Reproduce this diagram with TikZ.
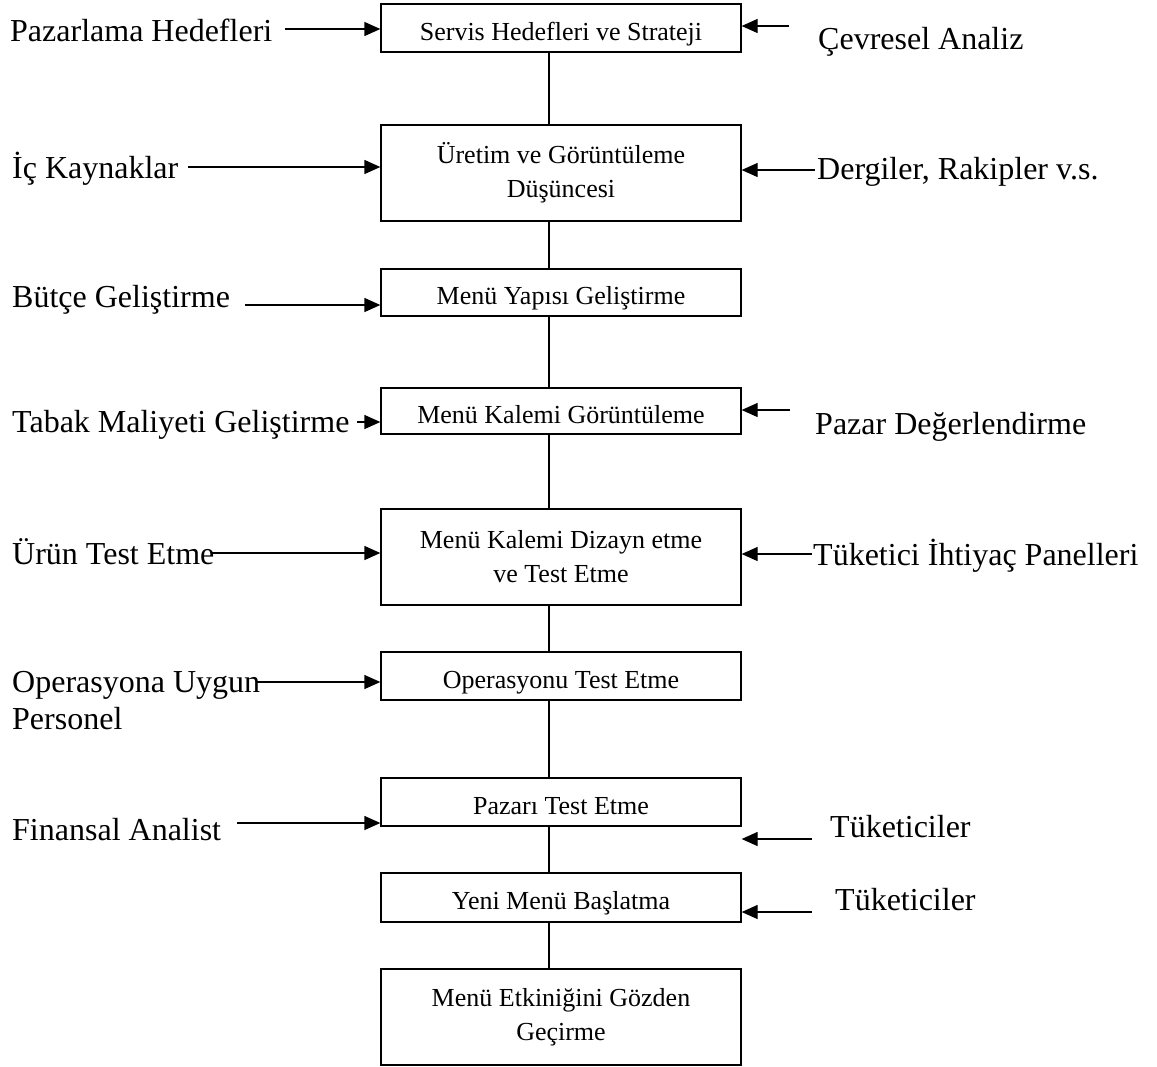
\documentclass[tikz,border=0pt]{standalone}
\usepackage{fontspec}
\setmainfont{Liberation Serif}
\usepackage{tikz}
\usetikzlibrary{arrows.meta}

\tikzset{
  adim/.style={draw,rectangle,line width=1.3pt,minimum width=360pt,inner sep=0pt,
               align=center,font=\fontsize{26}{34}\selectfont},
  tek/.style={text height=24pt,text depth=0pt},
  cift/.style={},
  etiket/.style={inner sep=0pt,font=\fontsize{32}{37}\selectfont},
  ok/.style={line width=1.3pt,-{Triangle[length=16pt,width=14pt]}},
  hat/.style={line width=1.3pt}
}

\begin{document}
\begin{tikzpicture}[x=1pt,y=-1pt]
\useasboundingbox (0,0) rectangle (1157,1066);

% ana adimlar
\foreach \n/\y/\h/\s/\t in {b1/28/48/tek/{Servis Hedefleri ve Strateji},
                            b2/173/96/cift/{Üretim ve Görüntüleme\\Düşüncesi},
                            b3/292.5/47/tek/{Menü Yapısı Geliştirme},
                            b4/411/46/tek/{Menü Kalemi Görüntüleme},
                            b5/557/96/cift/{Menü Kalemi Dizayn etme\\ve Test Etme},
                            b6/676/48/tek/{Operasyonu Test Etme},
                            b7/802/48/tek/{Pazarı Test Etme},
                            b8/897.5/49/tek/{Yeni Menü Başlatma},
                            b9/1017/96/cift/{Menü Etkiniğini Gözden\\Geçirme}}
  \node[adim,\s,minimum height=\h pt] (\n) at (561,\y) {\t};

\foreach \s/\t in {b1/b2, b2/b3, b3/b4, b4/b5, b5/b6, b6/b7, b7/b8, b8/b9}
  \draw[hat] ([xshift=-12pt]\s.south) -- ([xshift=-12pt]\t.north);

% sol etiketler
\foreach \n/\x/\y/\t in {pazarlama/10/41/{Pazarlama Hedefleri},
                         kaynak/12/178/{İç Kaynaklar},
                         butce/12/307/{Bütçe Geliştirme},
                         tabak/12/432/{Tabak Maliyeti Geliştirme},
                         urun/12/564/{Ürün Test Etme},
                         finans/12/840/{Finansal Analist}}
  \node[etiket,anchor=base west] (\n) at (\x,\y) {\t};
\node[etiket,anchor=north west,align=left] (personel) at (12,671) {Operasyona Uygun\\Personel};

% sag etiketler
\foreach \n/\x/\y/\t in {cevre/818/49/{Çevresel Analiz},
                         dergi/817/179/{Dergiler, Rakipler v.s.},
                         pazar/815/434/{Pazar Değerlendirme},
                         panel/813/565/{Tüketici İhtiyaç Panelleri},
                         tuk1/830/837/{Tüketiciler},
                         tuk2/835/910/{Tüketiciler}}
  \node[etiket,anchor=base west] (\n) at (\x,\y) {\t};

% oklar
\foreach \k/\x/\y/\b in {l1/285/29/b1, l2/188/167/b2, l3/245/305/b3, l4/357/422/b4,
                         l5/212/553/b5, l6/257/682/b6, l7/237/823/b7}
  { \coordinate (\k) at (\x,\y); \draw[ok] (\k) -- (\k -| \b.west); }

\foreach \k/\x/\y/\b in {r1/789/26/b1, r2/815/170/b2, r3/790/410/b4, r4/812/554/b5,
                         r5/812/839/b7, r6/812/912/b8}
  { \coordinate (\k) at (\x,\y); \draw[ok] (\k) -- (\k -| \b.east); }

\end{tikzpicture}
\end{document}
